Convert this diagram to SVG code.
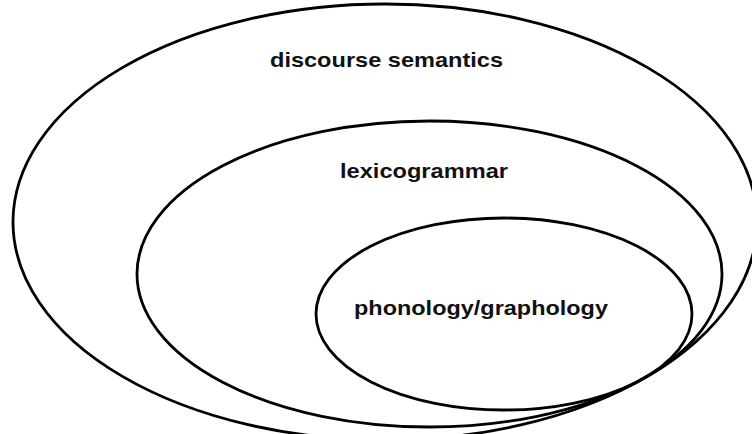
<svg xmlns="http://www.w3.org/2000/svg" width="752" height="434" viewBox="0 0 752 434">
<style>
.ring{fill:none;stroke:#000;stroke-width:2.8}
.lbl{font-family:"Liberation Sans",Arial,sans-serif;font-weight:bold;font-size:21px;fill:#111}
</style>
<rect width="752" height="434" fill="#fff"/>
<g id="discourse-semantics">
<ellipse class="ring" cx="385" cy="222" rx="372" ry="218"/>
<text class="lbl" x="270" y="67" textLength="233" lengthAdjust="spacingAndGlyphs">discourse semantics</text>
</g>
<g id="lexicogrammar">
<ellipse class="ring" cx="429.5" cy="274" rx="292.5" ry="153"/>
<text class="lbl" x="340" y="178" textLength="168" lengthAdjust="spacingAndGlyphs">lexicogrammar</text>
</g>
<g id="phonology-graphology">
<ellipse class="ring" cx="504" cy="314" rx="188" ry="96"/>
<text class="lbl" x="354" y="315" textLength="254" lengthAdjust="spacingAndGlyphs">phonology/graphology</text>
</g>
<g id="connectors"></g>
</svg>
